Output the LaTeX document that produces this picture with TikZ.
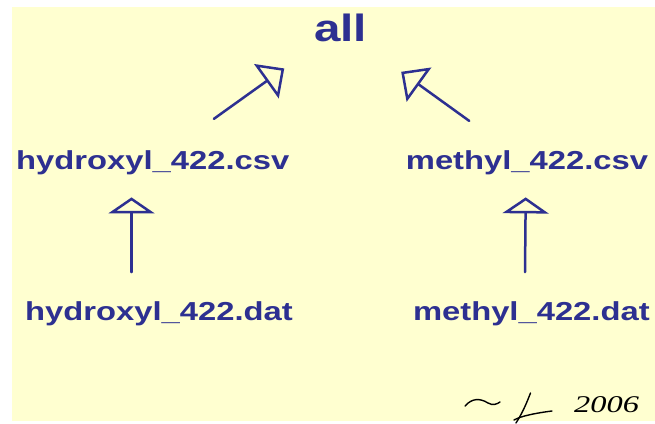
\documentclass[tikz,border=0pt]{standalone}
\usepackage{fontspec}
\newfontfamily\labfont{Liberation Sans}[FakeStretch=1.26]
\newfontfamily\topfont{Liberation Sans}[FakeStretch=1.25]
\newfontfamily\sigfont{Liberation Serif}
\usetikzlibrary{arrows.meta,calc}
\definecolor{ink}{RGB}{45,48,145}
\definecolor{paper}{RGB}{255,255,208}
\tikzset{
  lab/.style={inner sep=0pt, anchor=base west, text=ink,
    font=\fontsize{26}{26}\selectfont\labfont\bfseries},
  toplab/.style={inner sep=0pt, anchor=base west, text=ink,
    font=\fontsize{38}{38}\selectfont\topfont\bfseries},
  diag/.style={draw=ink, line width=2.5pt, line cap=round,
    -{Triangle[open, length=22pt, width=42pt, line width=2.5pt]}},
  vert/.style={draw=ink, line width=2.5pt, line cap=round,
    -{Triangle[open, length=16pt, width=46pt, line width=2.5pt]}},
  sig/.style={draw=black, line width=1.4pt, line cap=round}
}
\begin{document}
\begin{tikzpicture}[x=1pt,y=-1pt]
\useasboundingbox (0,0) rectangle (655,423);
\fill[paper] (12,7) rectangle (655,421);
\node[toplab] (all) at (314,41.7) {all};
\node[lab] (hcsv) at (16,169.3) {hydroxyl\_422.csv};
\node[lab] (mcsv) at (405.7,169.3) {methyl\_422.csv};
\node[lab] (hdat) at (25,320.7) {hydroxyl\_422.dat};
\node[lab] (mdat) at (412.8,320.7) {methyl\_422.dat};
\draw[diag] ($(hcsv.center)!0.325!(all.center)$) -- ($(hcsv.center)!0.70!(all.center)$);
\draw[diag] ($(mcsv.center)!0.31!(all.center)$) -- ($(mcsv.center)!0.675!(all.center)$);
\draw[vert] ($(hdat.north west)+(106.5,-29.5)$) -- ($(hcsv.south west)+(115.5,22.5)$);
\draw[vert] ($(mdat.north west)+(112.2,-29.5)$) -- ($(mcsv.south west)+(120,22.5)$);
% signature
\draw[sig] (465,406) .. controls (472,398) and (480,398) .. (488,403) .. controls (493,406) and (497,404) .. (500,402);
\draw[sig] (530.5,393) .. controls (527,402) and (523,412) .. (516,423);
\draw[sig] (514,420) .. controls (521,416) and (536,413) .. (552,411);
\node[inner sep=0pt, anchor=base west] (year) at (574,412) {\scalebox{1.35}[1]{\fontsize{24}{24}\selectfont\sigfont\itshape 2006}};
\end{tikzpicture}
\end{document}
